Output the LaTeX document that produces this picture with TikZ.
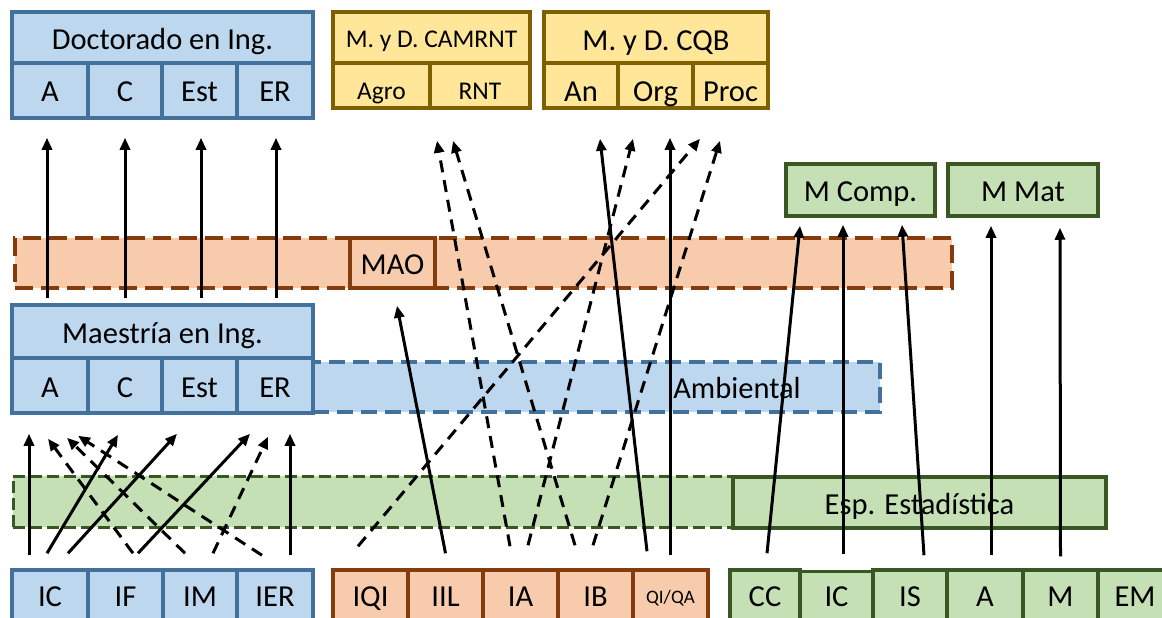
\documentclass[tikz,border=0pt]{standalone}
\usepackage{fontspec}
\setmainfont{Carlito}
\usetikzlibrary{arrows.meta,calc}
\definecolor{bfill}{HTML}{BDD7EE}
\definecolor{bline}{HTML}{41719C}
\definecolor{ofill}{HTML}{F8CBAD}
\definecolor{oline}{HTML}{843C0C}
\definecolor{yfill}{HTML}{FFE699}
\definecolor{yline}{HTML}{7F6000}
\definecolor{gfill}{HTML}{C5E0B4}
\definecolor{gline}{HTML}{385723}
\begin{document}
\begin{tikzpicture}[x=1pt,y=-1pt,
  boxbase/.style={line width=3.5pt, inner sep=0pt},
  bbox/.style={boxbase, draw=bline, fill=bfill},
  obox/.style={boxbase, draw=oline, fill=ofill},
  ybox/.style={boxbase, draw=yline, fill=yfill},
  gbox/.style={boxbase, draw=gline, fill=gfill},
  oband/.style={obox, dash pattern=on 18pt off 8pt},
  bband/.style={bbox, dash pattern=on 16pt off 8pt},
  gband/.style={gbox, line width=3pt, dash pattern=on 12pt off 5pt},
  tt/.style={font=\fontsize{30.5}{36}\selectfont, text height=23pt, text depth=0pt},
  ttb/.style={font=\fontsize{30.5}{36}\selectfont, text height=19pt, text depth=0pt},
  ttg/.style={font=\fontsize{30.5}{36}\selectfont, text height=32pt, text depth=0pt},
  ttq/.style={font=\fontsize{30.5}{36}\selectfont, text height=26pt, text depth=0pt},
  tsm/.style={font=\fontsize{25.5}{30}\selectfont, text height=21pt, text depth=0pt},
  tsmg/.style={font=\fontsize{25.5}{30}\selectfont, text height=28pt, text depth=0pt},
  tqi/.style={font=\fontsize{19}{23}\selectfont, text height=13pt, text depth=0pt},
  arr/.style={line width=3pt, -{Triangle[length=12pt,width=10pt]}},
  darr/.style={arr, dash pattern=on 12pt off 8pt}
]
\useasboundingbox (0,0) rectangle (1162,618);
\clip (0,0) rectangle (1162,618);
\fill[white] (0,0) rectangle (1162,618);

% bands
\node[oband, minimum width=937pt, minimum height=50pt] (oB) at (483.5,263) {};
\node[bband, minimum width=567pt, minimum height=50pt] (bB) at (596.5,387) {};
\node[gband, minimum width=720pt, minimum height=51pt] (gB) at (373,501.5) {};
\node[obox, tt, minimum width=85pt, minimum height=50pt] (MAO) at (392.5,263) {MAO};
\node[gbox, tt, minimum width=373pt, minimum height=51pt] (Esp) at (919.5,502.5) {Esp. Estadística};
\node[tt] (Amb) at (737,387) {Ambiental};

% Doctorado
\node[bbox, tt, minimum width=301pt, minimum height=51pt] (dT) at (162.5,37.5) {Doctorado en Ing.};
\node[bbox, tt, minimum width=76pt, minimum height=55pt] (dA) at (50,90.5) {A};
\node[bbox, tt, minimum width=74pt, minimum height=55pt] (dC) at (125,90.5) {C};
\node[bbox, tt, minimum width=75pt, minimum height=55pt] (dEst) at (199.5,90.5) {Est};
\node[bbox, tt, minimum width=76pt, minimum height=55pt] (dER) at (275,90.5) {ER};

% Maestria
\node[bbox, tt, minimum width=301pt, minimum height=53pt] (mT) at (162.5,331.5) {Maestría en Ing.};
\node[bbox, tt, minimum width=76pt, minimum height=55pt] (mA) at (50,385.5) {A};
\node[bbox, tt, minimum width=74pt, minimum height=55pt] (mC) at (125,385.5) {C};
\node[bbox, tt, minimum width=75pt, minimum height=55pt] (mEst) at (199.5,385.5) {Est};
\node[bbox, tt, minimum width=76pt, minimum height=55pt] (mER) at (275,385.5) {ER};

% CAMRNT
\node[ybox, tsm, minimum width=197pt, minimum height=51pt] (cT) at (431.5,37.5) {M. y D. CAMRNT};
\node[ybox, tsmg, minimum width=97pt, minimum height=45pt] (Agro) at (381.5,85.5) {Agro};
\node[ybox, tsmg, minimum width=100pt, minimum height=45pt] (RNT) at (480,85.5) {RNT};

% CQB
\node[ybox, ttq, minimum width=224pt, minimum height=51pt] (qT) at (656,37.5) {M. y D. CQB};
\node[ybox, ttg, minimum width=74pt, minimum height=45pt] (An) at (581,85.5) {An};
\node[ybox, ttg, minimum width=75pt, minimum height=45pt] (Org) at (655.5,85.5) {Org};
\node[ybox, ttg, minimum width=75pt, minimum height=45pt] (Proc) at (730.5,85.5) {Proc};

% M Comp / M Mat
\node[gbox, tt, minimum width=149pt, minimum height=52pt] (MComp) at (860.5,190) {M Comp.};
\node[gbox, tt, minimum width=150pt, minimum height=52pt] (MMat) at (1023,190) {M Mat};

% bottom rows
\node[bbox, ttb, minimum width=76pt, minimum height=54pt] (bIC) at (50,597) {IC};
\node[bbox, ttb, minimum width=75pt, minimum height=54pt] (bIF) at (125.5,597) {IF};
\node[bbox, ttb, minimum width=74pt, minimum height=54pt] (bIM) at (200,597) {IM};
\node[bbox, ttb, minimum width=76pt, minimum height=54pt] (bIER) at (275,597) {IER};

\node[obox, ttb, minimum width=75pt, minimum height=54pt] (bIQI) at (370.5,597) {IQI};
\node[obox, ttb, minimum width=75pt, minimum height=54pt] (bIIL) at (445.5,597) {IIL};
\node[obox, ttb, minimum width=75pt, minimum height=54pt] (bIA) at (520.5,597) {IA};
\node[obox, ttb, minimum width=75pt, minimum height=54pt] (bIB) at (595.5,597) {IB};
\node[obox, tqi, minimum width=75pt, minimum height=54pt] (bQI) at (670.5,597) {QI/QA};

\node[gbox, ttb, minimum width=70pt, minimum height=54pt] (gCC) at (765,597) {CC};
\node[gbox, ttb, text height=16pt, minimum width=73pt, minimum height=54pt] (gIC) at (836.5,598.5) {IC};
\node[gbox, ttb, minimum width=74pt, minimum height=54pt] (gIS) at (910,597) {IS};
\node[gbox, ttb, minimum width=76pt, minimum height=54pt] (gA) at (985,597) {A};
\node[gbox, ttb, minimum width=75pt, minimum height=54pt] (gM) at (1060.5,597) {M};
\node[gbox, ttb, minimum width=74pt, minimum height=54pt] (gEM) at (1135,597) {EM};

% Maestria -> Doctorado
\draw[arr] ($(dA.south |- mT.north)+(-3,-5)$) -- ([xshift=-3pt,yshift=-18pt]dA.south);
\draw[arr] ($(dC.south |- mT.north)+(0,-5)$) -- ([yshift=-18pt]dC.south);
\draw[arr] ($(dEst.south |- mT.north)+(1.5,-5)$) -- ([xshift=1.5pt,yshift=-18pt]dEst.south);
\draw[arr] ($(dER.south |- mT.north)+(1,-5)$) -- ([xshift=1pt,yshift=-18pt]dER.south);

% blue bottom -> Maestria
\draw[arr] ([xshift=-21pt,yshift=13pt]bIC.north) -- ([xshift=-21pt,yshift=-19pt]mA.south);
\draw[arr] ([xshift=-3pt,yshift=15pt]bIC.north) -- ([xshift=-7pt,yshift=-20pt]mC.south);
\draw[arr] ([xshift=18pt,yshift=15pt]bIC.north) -- ([xshift=-22.5pt,yshift=-19pt]mEst.south);
\draw[arr] ([xshift=12.5pt,yshift=15pt]bIF.north) -- ([xshift=-25pt,yshift=-19pt]mER.south);
\draw[arr] ([xshift=15pt,yshift=13pt]bIER.north) -- ([xshift=15pt,yshift=-19pt]mER.south);
\draw[darr] ([xshift=7.5pt,yshift=15pt]bIF.north) -- ([xshift=-2pt,yshift=-24pt]mA.south);
\draw[darr] ([xshift=-15pt,yshift=15pt]bIM.north) -- ([xshift=17pt,yshift=-23pt]mA.south);
\draw[darr] ([xshift=-13pt,yshift=13pt]bIER.north) -- ([xshift=28pt,yshift=-21pt]mA.south);
\draw[darr] ([xshift=13pt,yshift=15pt]bIM.north) -- ([xshift=-7pt,yshift=-22pt]mER.south);

% orange bottom
\draw[darr] ([xshift=-12.5pt,yshift=22pt]bIQI.north) -- ([xshift=-30.5pt,yshift=-29pt]Proc.south);
\draw[arr] ([yshift=15pt]bIIL.north) -- ([xshift=4.5pt,yshift=-16pt]MAO.south);
\draw[darr] ([xshift=-10.5pt,yshift=22pt]bIA.north) -- ([xshift=-43pt,yshift=-31pt]RNT.south);
\draw[darr] ([xshift=7.5pt,yshift=23pt]bIA.north) -- ([xshift=-22.5pt,yshift=-29pt]Org.south);
\draw[darr] ([xshift=-20.5pt,yshift=23pt]bIB.north) -- ([xshift=-27pt,yshift=-31pt]RNT.south);
\draw[darr] ([xshift=-2.5pt,yshift=23pt]bIB.north) -- ([xshift=-10.5pt,yshift=-31pt]Proc.south);
\draw[arr] ([xshift=-23.5pt,yshift=17pt]bQI.north) -- ([xshift=19pt,yshift=-29pt]An.south);
\draw[arr] ([xshift=-0.5pt,yshift=13pt]bQI.north) -- ([xshift=14.5pt,yshift=-28pt]Org.south);

% green bottom
\draw[arr] ([xshift=2pt,yshift=15pt]gCC.north) -- ([xshift=-60.5pt,yshift=-8pt]MComp.south);
\draw[arr] ([xshift=6.5pt,yshift=16pt]gIC.north) -- ([xshift=-17.5pt,yshift=-7pt]MComp.south);
\draw[arr] ([xshift=14pt,yshift=13pt]gIS.north) -- ([xshift=41.5pt,yshift=-7pt]MComp.south);
\draw[arr] ([xshift=6pt,yshift=13pt]gA.north) -- ([xshift=-32pt,yshift=-8pt]MMat.south);
\draw[arr] ([yshift=12pt]gM.north) -- ([xshift=37pt,yshift=-10pt]MMat.south);
\end{tikzpicture}
\end{document}
